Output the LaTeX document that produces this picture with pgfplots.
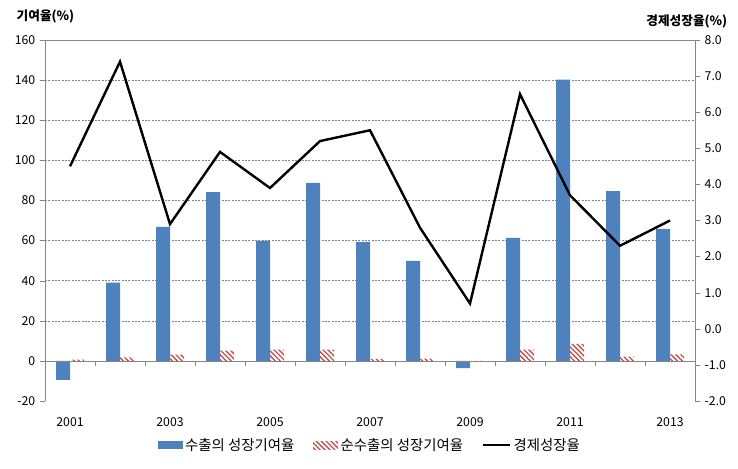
\documentclass[border=0pt]{standalone}
\usepackage{fontspec}
\setmainfont{Noto Sans CJK KR}
\usepackage{pgfplots}
\pgfplotsset{compat=1.18}
\usetikzlibrary{patterns.meta,calc}
\definecolor{expblue}{HTML}{4F81BD}
\definecolor{netred}{HTML}{C0504D}
\definecolor{axgray}{HTML}{868686}

\begin{document}
\begin{tikzpicture}
\begin{axis}[
    name=ax,
    scale only axis,
    width=487.5pt, height=270.75pt,
    xmin=-0.5, xmax=12.5,
    ymin=-20, ymax=160,
    ytick={-20,0,...,160},
    extra y ticks={20,40,...,140},
    extra y tick labels={},
    extra y tick style={grid=major, major tick length=0pt},
    major grid style={axgray, dash pattern=on 1.5pt off 1pt, line width=0.4pt},
    xtick={0,2,...,12},
    xticklabels={2001,2003,2005,2007,2009,2011,2013},
    axis x line*=bottom,
    axis y line*=left,
    x axis line style={draw=none},
    y axis line style={axgray},
    x tick style={draw=none},
    y tick style={axgray},
    tick align=outside,
    major tick length=3.75pt,
    ticklabel style={font=\fontsize{9.2}{11}\selectfont},
    /pgf/number format/assume math mode=true,
    xticklabel style={yshift=-5pt},
    legend columns=3,
    legend cell align=left,
    legend style={at={(0.5,-0.122)}, anchor=center, draw=none,
        font=\fontsize{10.8}{13}\selectfont,
        /tikz/every even column/.append style={column sep=12pt}},
]
\addplot[ybar, bar width=0.28, bar shift=-0.14, fill=expblue, draw=none,
    legend image code/.code={\fill[expblue] (0pt,-3pt) rectangle (18.75pt,3pt);}]
    coordinates {(0,-9.5) (1,39) (2,66.8) (3,84.2) (4,59.8) (5,88.7) (6,59.3)
                 (7,49.9) (8,-3.6) (9,61.3) (10,140.3) (11,84.7) (12,65.8)};
\addlegendentry{수출의 성장기여율}
\addplot[ybar, bar width=0.28, bar shift=0.14, draw=none,
    pattern={Lines[angle=-45,distance=2.6pt,line width=1pt]}, pattern color=netred,
    legend image code/.code={\fill[pattern={Lines[angle=-45,distance=2.6pt,line width=1pt]}, pattern color=netred] (0pt,-3pt) rectangle (18.75pt,3pt);}]
    coordinates {(0,0.6) (1,1.7) (2,3.1) (3,5.1) (4,5.6) (5,5.6) (6,1.0)
                 (7,1.1) (8,0) (9,5.6) (10,8.5) (11,2.1) (12,3.3)};
\addlegendentry{순수출의 성장기여율}
\addlegendimage{black, line width=1.8pt,
    legend image code/.code={\draw[black, line width=1.8pt] (0pt,0pt) -- (20pt,0pt);}}
\addlegendentry{경제성장율}
\draw[axgray] (rel axis cs:0,1) -- (rel axis cs:1,1);
\draw[axgray] (axis cs:-0.5,0) -- (axis cs:12.5,0);
\pgfplotsinvokeforeach{0,...,11}{\draw[axgray] (axis cs:#1.5,0) -- ++(0pt,-3.75pt);}
\end{axis}
\begin{axis}[
    scale only axis,
    width=487.5pt, height=270.75pt,
    xmin=-0.5, xmax=12.5,
    ymin=-2, ymax=8,
    ytick={-2,-1,...,8},
    axis y line*=right,
    axis x line=none,
    y axis line style={axgray},
    y tick style={axgray},
    tick align=outside,
    major tick length=3.75pt,
    ticklabel style={font=\fontsize{9.2}{11}\selectfont},
    /pgf/number format/assume math mode=true,
    yticklabel style={/pgf/number format/.cd, fixed, fixed zerofill, precision=1},
]
\addplot[black, line width=1.8pt, mark=none]
    coordinates {(0,4.5) (1,7.4) (2,2.9) (3,4.9) (4,3.9) (5,5.2) (6,5.5)
                 (7,2.8) (8,0.7) (9,6.5) (10,3.7) (11,2.3) (12,3.0)};
\end{axis}
\node[anchor=west, font=\fontsize{9.5}{11}\bfseries] at ($(ax.north west)+(-24.75pt,18pt)$) {기여율(\%)};
\node[anchor=east, font=\fontsize{9.5}{11}\bfseries] at ($(ax.north east)+(27.75pt,14pt)$) {경제성장율(\%)};
\pgfresetboundingbox
\path ($(ax.south west)+(-33.75pt,-50.25pt)$) rectangle ($(ax.north east)+(32.25pt,30pt)$);
\end{tikzpicture}
\end{document}
